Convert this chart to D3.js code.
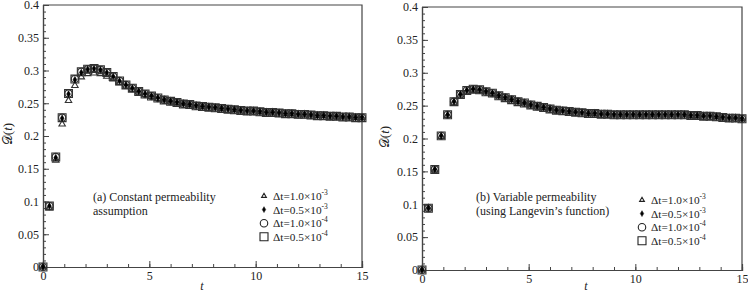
<!DOCTYPE html>
<html><head><meta charset="utf-8">
<script src="https://cdn.jsdelivr.net/npm/d3@7/dist/d3.min.js"></script>
<style>
body{margin:0;background:#fff;}
svg text{font-family:"Liberation Serif","Times New Roman",serif;fill:#222;}
</style></head>
<body><svg id="c" width="748" height="293"></svg>
<script>
// ---- data ----
const tValues = [0,0.3,0.6,0.9,1.2,1.5,1.8,2.1,2.4,2.7,3.0,3.3,3.6,3.9,4.2,4.5,4.8,5.1,5.4,5.7,6.0,6.3,6.6,6.9,7.2,7.5,7.8,8.1,8.4,8.7,9.0,9.3,9.6,9.9,10.2,10.5,10.8,11.1,11.4,11.7,12.0,12.3,12.6,12.9,13.2,13.5,13.8,14.1,14.4,14.7,15.0];

// Panel (a): constant permeability
const aDt1e3  = [0,0.090,0.163,0.218,0.254,0.277,0.290,0.295,0.296,0.295,0.291,0.287,0.281,0.276,0.271,0.267,0.263,0.260,0.257,0.255,0.253,0.251,0.249,0.248,0.246,0.245,0.244,0.243,0.242,0.241,0.240,0.239,0.238,0.238,0.237,0.236,0.236,0.235,0.234,0.234,0.233,0.233,0.232,0.231,0.231,0.230,0.230,0.229,0.229,0.228,0.228];
const aDt05e3 = [0,0.093,0.167,0.227,0.264,0.286,0.297,0.302,0.303,0.301,0.297,0.291,0.284,0.278,0.273,0.268,0.264,0.261,0.258,0.255,0.253,0.251,0.249,0.248,0.246,0.245,0.244,0.243,0.242,0.241,0.240,0.239,0.238,0.238,0.237,0.236,0.236,0.235,0.234,0.234,0.233,0.233,0.232,0.231,0.231,0.230,0.230,0.229,0.229,0.228,0.228];
const aDt1e4  = [0,0.093,0.168,0.228,0.265,0.287,0.298,0.302,0.303,0.301,0.297,0.291,0.284,0.278,0.273,0.268,0.264,0.261,0.258,0.255,0.253,0.251,0.249,0.248,0.246,0.245,0.244,0.243,0.242,0.241,0.240,0.239,0.238,0.238,0.237,0.236,0.236,0.235,0.234,0.234,0.233,0.233,0.232,0.231,0.231,0.230,0.230,0.229,0.229,0.228,0.228];
const aDt05e4 = [0,0.093,0.168,0.228,0.265,0.287,0.298,0.302,0.303,0.301,0.297,0.291,0.284,0.278,0.273,0.268,0.264,0.261,0.258,0.255,0.253,0.251,0.249,0.248,0.246,0.245,0.244,0.243,0.242,0.241,0.240,0.239,0.238,0.238,0.237,0.236,0.236,0.235,0.234,0.234,0.233,0.233,0.232,0.231,0.231,0.230,0.230,0.229,0.229,0.228,0.228];

// Panel (b): variable permeability
const bDt1e3  = [0,0.094,0.152,0.203,0.235,0.255,0.266,0.272,0.274,0.273,0.271,0.268,0.265,0.262,0.259,0.256,0.254,0.251,0.249,0.247,0.245,0.243,0.242,0.241,0.240,0.239,0.238,0.238,0.237,0.237,0.236,0.236,0.236,0.236,0.236,0.236,0.236,0.236,0.236,0.236,0.236,0.236,0.235,0.235,0.234,0.234,0.233,0.232,0.231,0.231,0.230];
const bDt05e3 = [0,0.094,0.153,0.204,0.236,0.256,0.267,0.273,0.275,0.274,0.271,0.269,0.265,0.262,0.259,0.256,0.254,0.251,0.249,0.247,0.245,0.243,0.242,0.241,0.240,0.239,0.238,0.238,0.237,0.237,0.236,0.236,0.236,0.236,0.236,0.236,0.236,0.236,0.236,0.236,0.236,0.236,0.235,0.235,0.234,0.234,0.233,0.232,0.231,0.231,0.230];
const bDt1e4  = [0,0.094,0.153,0.204,0.236,0.256,0.267,0.273,0.275,0.274,0.271,0.269,0.265,0.262,0.259,0.256,0.254,0.251,0.249,0.247,0.245,0.243,0.242,0.241,0.240,0.239,0.238,0.238,0.237,0.237,0.236,0.236,0.236,0.236,0.236,0.236,0.236,0.236,0.236,0.236,0.236,0.236,0.235,0.235,0.234,0.234,0.233,0.232,0.231,0.231,0.230];
const bDt05e4 = [0,0.094,0.153,0.204,0.236,0.256,0.267,0.273,0.275,0.274,0.271,0.269,0.265,0.262,0.259,0.256,0.254,0.251,0.249,0.247,0.245,0.243,0.242,0.241,0.240,0.239,0.238,0.238,0.237,0.237,0.236,0.236,0.236,0.236,0.236,0.236,0.236,0.236,0.236,0.236,0.236,0.236,0.235,0.235,0.234,0.234,0.233,0.232,0.231,0.231,0.230];

const seriesNames = [["1.0","-3"],["0.5","-3"],["1.0","-4"],["0.5","-4"]];
const seriesShapes = ["triangle","diamond","circle","square"];
const xMajorTicks = [0,5,10,15];
const yMajorTicks = [0,0.05,0.1,0.15,0.2,0.25,0.3,0.35,0.4];
const panelNotes = [["(a) Constant permeability","assumption"],["(b) Variable permeability","(using Langevin\u2019s function)"]];

// ---- layout ----
const svg = d3.select("#c");
const panels = [
  {x0:43, x1:362, y0:267, y1:5, data:[aDt1e3,aDt05e3,aDt1e4,aDt05e4], note:panelNotes[0],
   noteX:93, noteY:201, legX:264, legY:196, ylabX:12, ylabY:134, tlabX:202},
  {x0:422, x1:742, y0:270, y1:7, data:[bDt1e3,bDt05e3,bDt1e4,bDt05e4], note:panelNotes[1],
   noteX:476, noteY:201, legX:642, legY:200, ylabX:389, ylabY:137, tlabX:586}
];

function symPath(shape){
  if(shape==="triangle") return d3.symbol(d3.symbolTriangle, 18)();
  if(shape==="diamond") return d3.symbol(d3.symbolDiamond, 12)();
  if(shape==="circle") return d3.symbol(d3.symbolCircle, 40)();
  return d3.symbol(d3.symbolSquare, 62)();
}
function styleSym(sel, shape){
  if(shape==="diamond") sel.attr("fill","#000").attr("stroke","#000").attr("stroke-width",0.6);
  else sel.attr("fill","none").attr("stroke","#333").attr("stroke-width",1.1);
}

panels.forEach(p=>{
  const x = d3.scaleLinear().domain([0,15]).range([p.x0,p.x1]);
  const y = d3.scaleLinear().domain([0,0.4]).range([p.y0,p.y1]);
  const g = svg.append("g");

  // frame (top and right)
  g.append("path").attr("d",`M${x(0)},${y(0.4)}H${x(15)}V${y(0)}`)
    .attr("fill","none").attr("stroke","#444").attr("stroke-width",1.2);

  // y axis
  const ya = g.append("g").attr("transform",`translate(${x(0)},0)`)
    .call(d3.axisLeft(y).tickValues(yMajorTicks).tickSize(-6).tickPadding(4)
      .tickFormat(d=>d===0?"0":String(+d.toFixed(2))));
  const ym = g.append("g").attr("transform",`translate(${x(0)},0)`)
    .call(d3.axisLeft(y).tickValues(d3.range(0,41).map(i=>i/100)).tickSize(-3).tickFormat(""));
  // x axis
  const xa = g.append("g").attr("transform",`translate(0,${y(0)})`)
    .call(d3.axisBottom(x).tickValues(xMajorTicks).tickSize(-6).tickPadding(4));
  const xm = g.append("g").attr("transform",`translate(0,${y(0)})`)
    .call(d3.axisBottom(x).tickValues(d3.range(0,16)).tickSize(-3).tickFormat(""));
  [ya,ym,xa,xm].forEach(a=>{
    a.select(".domain").attr("stroke","#444").attr("stroke-width",1.2);
    a.selectAll(".tick line").attr("stroke","#444");
    a.selectAll("text").attr("font-size",12).attr("fill","#222")
      .attr("font-family","Liberation Serif, serif");
  });

  // axis labels
  g.append("text").attr("x",p.tlabX).attr("y",290).attr("text-anchor","middle")
    .attr("font-size",12).attr("font-style","italic").text("t");
  const yl = g.append("text").attr("transform",`translate(${p.ylabX},${p.ylabY}) rotate(-90)`)
    .attr("text-anchor","middle").attr("font-size",13);
  yl.append("tspan").text("\uD835\uDC9F(");
  yl.append("tspan").attr("font-style","italic").text("t");
  yl.append("tspan").text(")");

  // markers
  const order = [0,3,2,1];
  order.forEach(si=>{
    const shape = seriesShapes[si];
    g.append("g").selectAll("path").data(p.data[si]).join("path")
      .attr("d",symPath(shape))
      .attr("transform",(d,i)=>`translate(${x(tValues[i])},${y(d)})`)
      .call(s=>styleSym(s,shape));
  });

  // note
  p.note.forEach((line,i)=>{
    g.append("text").attr("x",p.noteX).attr("y",p.noteY+i*13.5).attr("font-size",12).text(line);
  });

  // legend
  seriesNames.forEach((nm,i)=>{
    const cy = p.legY + i*13.6;
    const shape = seriesShapes[i];
    let size = shape==="triangle"?10:shape==="diamond"?10:shape==="circle"?44:64;
    const sym = shape==="triangle"?d3.symbolTriangle:shape==="diamond"?d3.symbolDiamond:shape==="circle"?d3.symbolCircle:d3.symbolSquare;
    g.append("path").attr("d",d3.symbol(sym,size)()).attr("transform",`translate(${p.legX},${cy})`)
      .call(s=>styleSym(s,shape)).attr("stroke","#222");
    const t = g.append("text").attr("x",p.legX+9).attr("y",cy+4).attr("font-size",11.3);
    t.append("tspan").text(`\u0394t=${nm[0]}\u00D710`);
    t.append("tspan").attr("font-size",7.5).attr("dy",-5).text(nm[1]);
  });
});
</script></body></html>
